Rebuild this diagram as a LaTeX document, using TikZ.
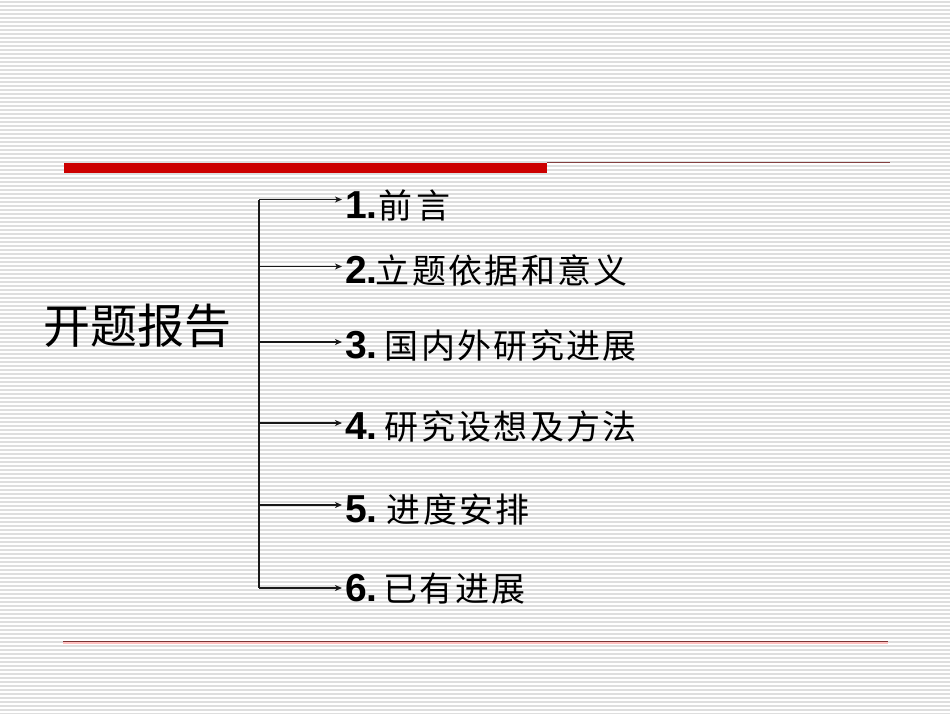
\documentclass[tikz,border=0pt]{standalone}
\usepackage{fontspec}
\setmainfont{Liberation Sans}
\newfontfamily\cjk{Noto Sans CJK SC}
\usetikzlibrary{arrows.meta}
\newcommand\chrow[2]{\def\mycw{#1}\chrowi#2\relax}
\def\chrowi#1{\ifx#1\relax\else\makebox[\mycw][c]{#1}\expandafter\chrowi\fi}
\tikzset{
  item/.style={anchor=west,inner sep=0pt,font=\fontsize{34}{34}\selectfont},
  conn/.style={line width=1.1pt,draw=black!90,-{Stealth[length=7pt,width=6pt,inset=2pt]}},
  stripe/.style={line width=1.6pt,draw=black!13},
}
\newcommand\nm[1]{{\fontsize{39}{39}\selectfont\bfseries #1}}
\begin{document}
\begin{tikzpicture}[x=1pt,y=-1pt]
\useasboundingbox (0,0) rectangle (950,713);
\fill[white] (0,0) rectangle (950,713);
\foreach \k in {0,...,178} {\draw[stripe] (0,2+4*\k) -- (950,2+4*\k);}
% top rules
\fill[red!80!black] (64,163) rectangle (547,173);
\draw[line width=1.3pt,draw=red!35!black!75] (547,162.5) -- (890,162.5);
% bottom rule
\draw[line width=2pt,draw=red!25] (63,643) -- (888,643);
\draw[line width=1.3pt,draw=red!35!black!80] (63,641.8) -- (888,641.8);
% root
\node[inner sep=0pt,anchor=west,font=\fontsize{47}{47}\selectfont] (root) at (43,326) {\cjk\chrow{47pt}{开题报告}};
% branch points
\coordinate (b1) at (259,199.5);
\coordinate (b2) at (259,266.5);
\coordinate (b3) at (259,342);
\coordinate (b4) at (259,423);
\coordinate (b5) at (259,505);
\coordinate (b6) at (259,588);
\draw[line width=1.1pt,draw=black!90] (b1) -- (b6);
% items
\node[item] (i1) at (345,205.5) {\nm{1}\nm{.}\hspace{-1pt}\cjk\chrow{38pt}{前言}};
\node[item] (i2) at (345,270.5) {\nm{2.}\hspace{-3pt}\cjk\chrow{36.3pt}{立题依据和意义}};
\node[item] (i3) at (345,346) {\nm{3.}\hspace{6pt}\cjk\chrow{36.3pt}{国内外研究进展}};
\node[item] (i4) at (345,427) {\nm{4.}\hspace{6pt}\cjk\chrow{36.3pt}{研究设想及方法}};
\node[item] (i5) at (345,509) {\nm{5.}\hspace{8pt}\cjk\chrow{36.3pt}{进度安排}};
\node[item] (i6) at (345,589) {\nm{6.}\hspace{5pt}\cjk\chrow{36pt}{已有进展}};
\foreach \i in {1,...,6} {\draw[conn] (b\i) -- ([xshift=-3pt]b\i -| i\i.west);}
\end{tikzpicture}
\end{document}
